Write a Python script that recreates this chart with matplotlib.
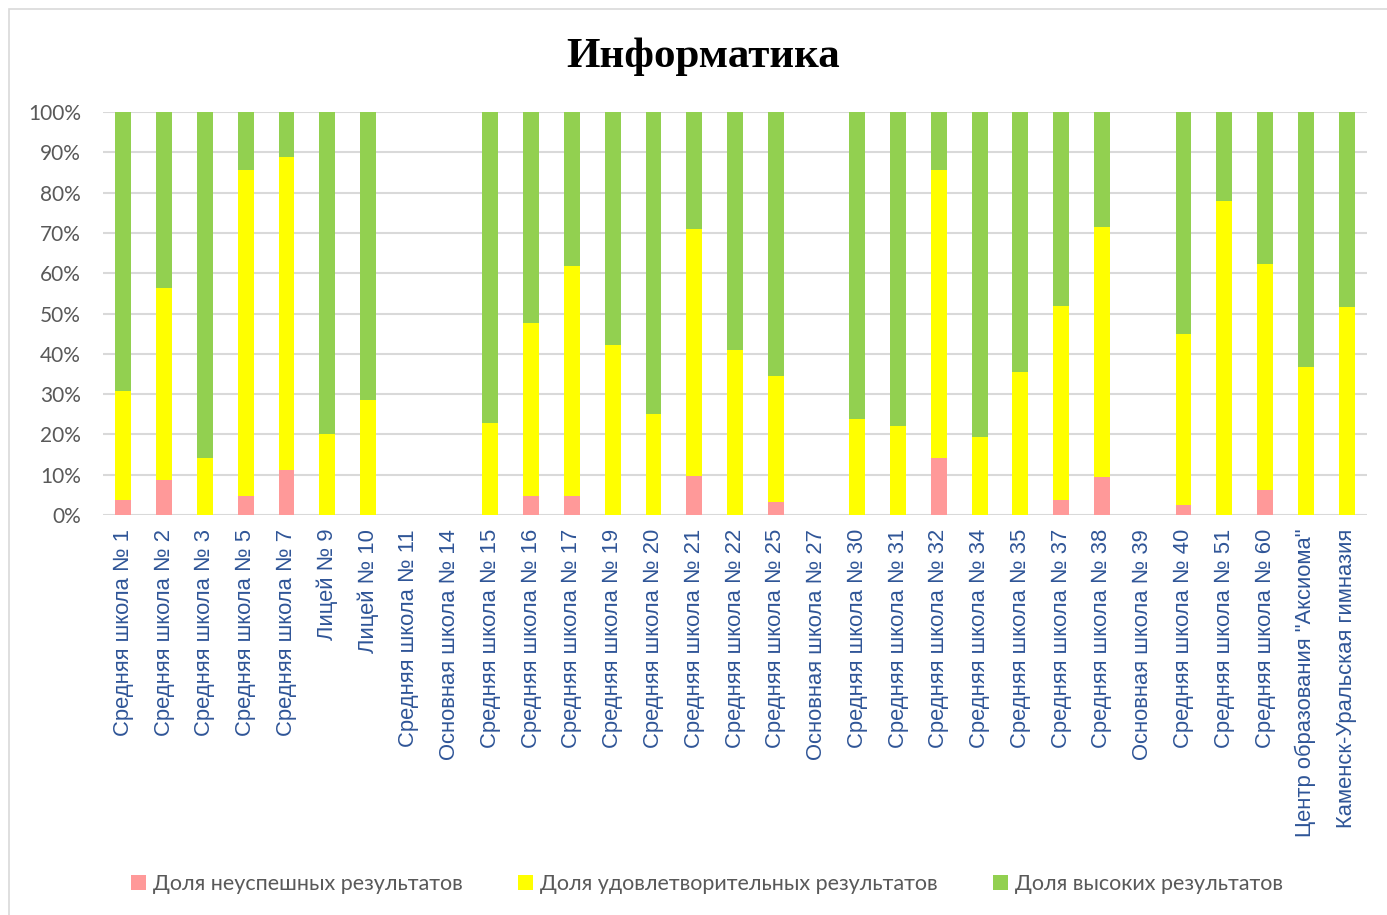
import matplotlib.pyplot as plt
from matplotlib.patches import Rectangle
import numpy as np

schools = [
    'Средняя школа № 1', 'Средняя школа № 2', 'Средняя школа № 3', 'Средняя школа № 5',
    'Средняя школа № 7', 'Лицей № 9', 'Лицей № 10', 'Средняя школа № 11',
    'Основная школа № 14', 'Средняя школа № 15', 'Средняя школа № 16', 'Средняя школа № 17',
    'Средняя школа № 19', 'Средняя школа № 20', 'Средняя школа № 21', 'Средняя школа № 22',
    'Средняя школа № 25', 'Основная школа № 27', 'Средняя школа № 30', 'Средняя школа № 31',
    'Средняя школа № 32', 'Средняя школа № 34', 'Средняя школа № 35', 'Средняя школа № 37',
    'Средняя школа № 38', 'Основная школа № 39', 'Средняя школа № 40', 'Средняя школа № 51',
    'Средняя школа № 60', 'Центр образования "Аксиома"', 'Каменск-Уральская гимназия',
]

# доли, %
fail = [3.7, 8.6, 0, 4.7, 11.1, 0, 0, 0, 0, 0, 4.7, 4.7, 0, 0, 9.7, 0,
        3.3, 0, 0, 0, 14.2, 0, 0, 3.6, 9.4, 0, 2.4, 0, 6.1, 0, 0]
# верхняя граница жёлтой части (неусп. + удовл.)
fail_plus_ok = [30.8, 56.4, 14.2, 85.7, 88.8, 20.0, 28.5, 0, 0, 22.8, 47.6, 61.9, 42.2, 25.1, 71.0, 40.9,
                34.5, 0, 23.8, 22.2, 85.7, 19.3, 35.6, 51.9, 71.4, 0, 44.9, 77.8, 62.4, 36.8, 51.7]
has_data = [1, 1, 1, 1, 1, 1, 1, 0, 0, 1, 1, 1, 1, 1, 1, 1,
            1, 0, 1, 1, 1, 1, 1, 1, 1, 0, 1, 1, 1, 1, 1]

fail = np.array(fail) / 100
ok = np.array(fail_plus_ok) / 100 - fail
high = np.array(has_data) - fail - ok

labels = ['Доля неуспешных результатов', 'Доля удовлетворительных результатов', 'Доля высоких результатов']
colors = ['#FF9999', '#FFFF00', '#92D050']

fig = plt.figure(figsize=(13.87, 9.15), dpi=100)
fig.patches.append(Rectangle((9 / 1387, -0.1), 1.2, 1 - 9 / 915 + 0.1, transform=fig.transFigure,
                             fill=False, edgecolor='#D9D9D9', linewidth=1.2))

ax = fig.add_axes([103 / 1387, 1 - 515 / 915, 1264 / 1387, 403 / 915])
x = np.arange(len(schools))
w = 0.39
ax.bar(x, fail, w, color=colors[0], label=labels[0], zorder=3)
ax.bar(x, ok, w, bottom=fail, color=colors[1], label=labels[1], zorder=3)
ax.bar(x, high, w, bottom=fail + ok, color=colors[2], label=labels[2], zorder=3)

ax.set_xlim(-0.5, len(schools) - 0.5)
ax.set_ylim(0, 1)
ax.set_yticks(np.arange(0, 1.01, 0.1))
ax.set_yticklabels([f'{int(round(v * 100))}%' for v in np.arange(0, 1.01, 0.1)],
                   fontsize=15, color='#595959', family='Lato')
ax.yaxis.grid(True, color='#D9D9D9', linewidth=1.5, zorder=0)
ax.set_xticks(x)
ax.set_xticklabels(schools, rotation=90, fontsize=15.8, color='#2F5597', family='Liberation Sans')
ax.tick_params(length=0, pad=10)
ax.tick_params(axis='y', pad=16)
for s in ax.spines.values():
    s.set_visible(False)

fig.text(703 / 1387, 1 - 57 / 915, 'Информатика', ha='center', va='center',
         fontsize=31, fontweight='bold', family='Liberation Serif')

fig.legend(loc='center', bbox_to_anchor=(707 / 1387, 1 - 884 / 915), ncol=3, frameon=False,
           prop={'family': 'Lato', 'size': 15.5}, labelcolor='#595959',
           handlelength=0.7, handleheight=0.7, handletextpad=0.3, columnspacing=2.6)

plt.savefig('out.png', dpi=100)
